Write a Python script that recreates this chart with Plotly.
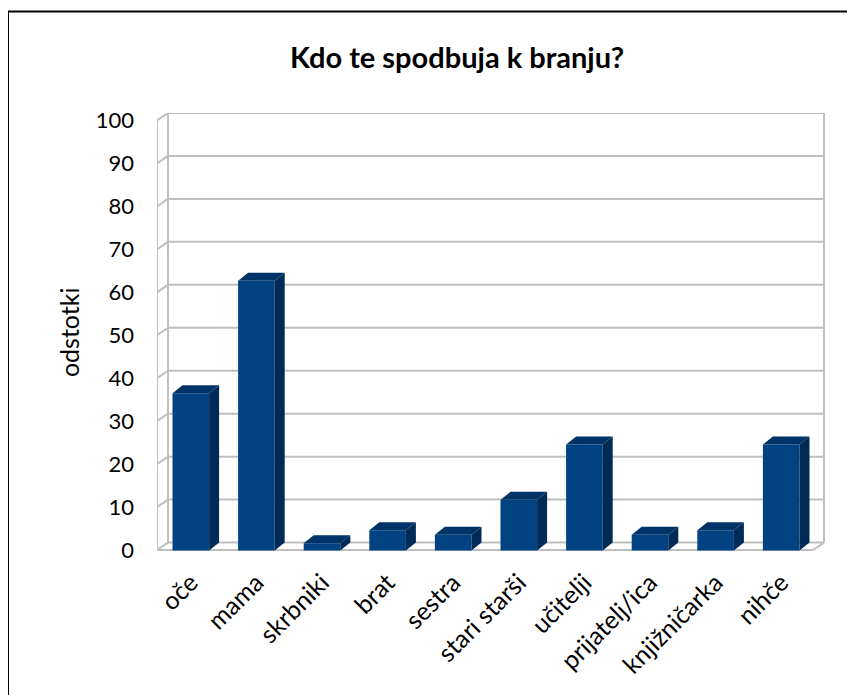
import plotly.graph_objects as go

# ---- data ----
categories = ["oče", "mama", "skrbniki", "brat", "sestra", "stari starši",
              "učitelji", "prijatelj/ica", "knjižničarka", "nihče"]
values = [36.6, 62.8, 1.7, 4.7, 3.7, 11.8, 24.7, 3.7, 4.7, 24.7]
y_ticks = [0, 10, 20, 30, 40, 50, 60, 70, 80, 90, 100]
y_tick_labels = ["0", "10", "20", "30", "40", "50", "60", "70", "80", "90", "100"]
title_text = "Kdo te spodbuja k branju?"
y_title = "odstotki"

# ---- layout geometry (page has an 8px body margin, so figure is 8px smaller) ----
OFF = 8
W, H = 855 - OFF, 695 - OFF
PX_X = 65.6          # pixels per category
PX_Y = 4.3           # pixels per percent
Y_RANGE = [-2.2, 100]
n = len(categories)
WX, WY = 11 / PX_X, 7.5 / PX_Y     # wall depth
BX, BY = 10 / PX_X, 8 / PX_Y       # bar depth
BW = 36.6 / PX_X                    # bar face width
X_RANGE = [-0.5 - WX, n - 0.5 + 4 / PX_X]
pw = (X_RANGE[1] - X_RANGE[0]) * PX_X
ph = (Y_RANGE[1] - Y_RANGE[0]) * PX_Y
ML = 157 - OFF
MT = 112.7 - OFF
MR = W - ML - pw
MB = H - MT - ph

FRONT = "#004282"
SIDE = "#002B57"
TOP = "#003468"
GRID = "#BFBFBF"
FONT = "Lato"

fig = go.Figure()

# front faces of the bars
fig.add_trace(go.Bar(
    x=[i - BX for i in range(n)], y=values, base=-BY, width=BW,
    marker=dict(color=FRONT, line=dict(width=0)), hoverinfo="skip",
    showlegend=False))

# top and side faces
for i, v in enumerate(values):
    xl = i - BX - BW / 2
    xr = i - BX + BW / 2
    fig.add_trace(go.Scatter(
        x=[xl, xl + BX, xr + BX, xr, xl], y=[v - BY, v, v, v - BY, v - BY],
        fill="toself", fillcolor=TOP, mode="lines", line=dict(width=0, color=TOP),
        hoverinfo="skip", showlegend=False))
    fig.add_trace(go.Scatter(
        x=[xr, xr + BX, xr + BX, xr, xr], y=[-BY, 0, v, v - BY, -BY],
        fill="toself", fillcolor=SIDE, mode="lines", line=dict(width=0, color=SIDE),
        hoverinfo="skip", showlegend=False))

# walls / gridlines as shapes below the bars
shapes = []
def seg(x0, y0, x1, y1):
    shapes.append(dict(type="line", xref="x", yref="y", x0=x0, y0=y0, x1=x1, y1=y1,
                       line=dict(color=GRID, width=2), layer="below"))

xb0, xb1 = -0.5, n - 0.5
for t in y_ticks:
    seg(xb0, t, xb1, t)
    seg(xb0 - WX, t - WY, xb0, t)
seg(xb0 - WX, -WY, xb0 - WX, y_ticks[-1] - WY)
seg(xb0, 0, xb0, y_ticks[-1])
seg(xb1, 0, xb1, y_ticks[-1])
seg(xb0 - WX, -WY, xb1 - WX, -WY)
seg(xb1 - WX, -WY, xb1, 0)

# outer chart border (page x=8, y=11; extends past right/bottom)
shapes.append(dict(type="rect", xref="paper", yref="paper",
                   x0=(8 - OFF - ML) / pw, x1=(W + 30 - ML) / pw,
                   y0=(MT + ph - (H + 30)) / ph, y1=(MT + ph - (11 - OFF)) / ph,
                   line=dict(color="black", width=2), fillcolor="rgba(0,0,0,0)",
                   layer="below"))

fig.update_layout(
    width=W, height=H,
    margin=dict(l=ML, r=MR, t=MT, b=MB, pad=0),
    paper_bgcolor="white", plot_bgcolor="rgba(0,0,0,0)",
    font=dict(family=FONT, color="black"),
    shapes=shapes,
    showlegend=False,
    title=dict(text="<b>" + title_text + "</b>", x=(457 - OFF) / W,
               y=1 - (58 - OFF) / H, xanchor="center", yanchor="middle",
               font=dict(family=FONT, size=29, color="black")),
    annotations=[dict(text=y_title, xref="paper", yref="paper",
                      x=(69 - OFF - ML) / pw, y=(MT + ph - (332 - OFF)) / ph,
                      xanchor="center", yanchor="middle",
                      textangle=-90, showarrow=False,
                      font=dict(family=FONT, size=25, color="black"))],
    xaxis=dict(range=X_RANGE, showgrid=False, zeroline=False, showline=False,
               tickmode="array", tickvals=[i - BX for i in range(n)],
               ticktext=categories, tickangle=-45, ticks="", ticklabelstandoff=10,
               tickfont=dict(family=FONT, size=25, color="black"), fixedrange=True),
    yaxis=dict(range=Y_RANGE, showgrid=False, zeroline=False, showline=False,
               tickmode="array", tickvals=[t - WY for t in y_ticks],
               ticktext=y_tick_labels, ticks="", ticklabelstandoff=22,
               tickfont=dict(family=FONT, size=22, color="black"), fixedrange=True),
)

fig.write_html("out.html")
